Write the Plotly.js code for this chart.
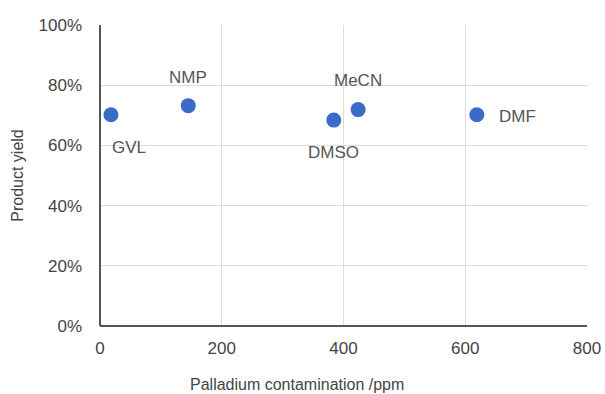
<!DOCTYPE html>
<html>
<head>
<meta charset="utf-8">
<script src="https://cdn.plot.ly/plotly-3.0.1.min.js"></script>
<style>html,body{margin:0;padding:0;background:#fff;}#chart{width:605px;height:394px;}</style>
</head>
<body>
<div id="chart"></div>
<script>
const solvents = ["GVL", "NMP", "DMSO", "MeCN", "DMF"];
const palladiumPpm = [18, 145, 384, 424, 619];
const productYield = [70.2, 73.2, 68.4, 71.9, 70.2];
const xTicks = [0, 200, 400, 600, 800];
const yTicks = [0, 20, 40, 60, 80, 100];
const yTickLabels = ["0%", "20%", "40%", "60%", "80%", "100%"];
const xTitle = "Palladium contamination /ppm";
const yTitle = "Product yield";

// label offsets (pixels) per solvent: style only
const labelShift = {
  GVL: [18, -33], NMP: [0, 28], DMSO: [0, -32], MeCN: [0, 29], DMF: [41, -2]
};

const FONT = "Liberation Sans, Arial, sans-serif";

const trace = {
  x: palladiumPpm,
  y: productYield,
  type: "scatter",
  mode: "markers",
  marker: {color: "#3a6bc9", size: 15},
  hoverinfo: "skip"
};

const annotations = solvents.map((s, i) => ({
  x: palladiumPpm[i], y: productYield[i], xref: "x", yref: "y",
  text: s, showarrow: false,
  xanchor: "center", yanchor: "middle",
  xshift: labelShift[s][0], yshift: labelShift[s][1],
  font: {family: FONT, size: 17, color: "#555"}
}));

annotations.push({
  xref: "paper", yref: "paper", x: 0.4045, y: -0.196,
  xanchor: "center", yanchor: "middle", showarrow: false,
  text: xTitle, font: {family: FONT, size: 16, color: "#444"}
});

const layout = {
  width: 605, height: 394,
  margin: {l: 100, r: 18, t: 25, b: 68},
  paper_bgcolor: "#fff", plot_bgcolor: "#fff",
  showlegend: false,
  font: {family: FONT, color: "#333"},
  xaxis: {
    range: [0, 800], tickvals: xTicks, ticktext: xTicks.map(String),
    showgrid: true, gridcolor: "#dcdcdc", gridwidth: 1,
    zeroline: false, showline: false, ticks: "",
    tickfont: {size: 17, color: "#444"},
    ticklabelstandoff: 10,
    automargin: false, fixedrange: true
  },
  yaxis: {
    range: [0, 100], tickvals: yTicks, ticktext: yTickLabels,
    showgrid: true, gridcolor: "#dcdcdc", gridwidth: 1,
    zeroline: false, showline: false, ticks: "",
    tickfont: {size: 17, color: "#444"},
    ticklabelstandoff: 17,
    title: {text: yTitle, font: {size: 16, color: "#444"}, standoff: 10},
    automargin: false, fixedrange: true
  },
  shapes: [
    {type: "line", xref: "paper", yref: "paper", x0: 0, x1: 0, y0: 0, y1: 1, line: {color: "#555", width: 2}},
    {type: "line", xref: "paper", yref: "paper", x0: 0, x1: 1, y0: 0, y1: 0, line: {color: "#555", width: 2}}
  ],
  annotations: annotations
};

Plotly.newPlot("chart", [trace], layout, {staticPlot: true, displayModeBar: false});
</script>
</body>
</html>
